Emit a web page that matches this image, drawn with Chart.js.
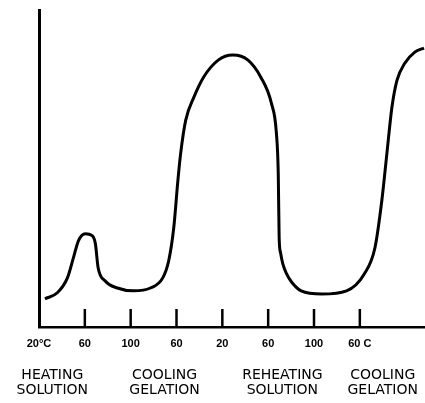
<!DOCTYPE html>
<html>
<head>
<meta charset="utf-8">
<script src="https://cdn.jsdelivr.net/npm/chart.js@4.4.0/dist/chart.umd.min.js"></script>
<style>
  html, body { margin: 0; padding: 0; background: #fff; }
  #wrap { width: 425px; height: 403px; }
</style>
</head>
<body>
<div id="wrap"><canvas id="gelChart"></canvas></div>
<script>
// temperature steps along the run (one step per tick)
const tickPositions = [0, 1, 2, 3, 4, 5, 6, 7];
const tickLabels = ['20°C', '60', '100', '60', '20', '60', '100', '60 C'];

// phase captions under the axis
const phasePositions = [0.29, 2.74, 5.31, 7.5];
const phaseLabels = [
    ['HEATING', 'SOLUTION'],
    ['COOLING', 'GELATION'],
    ['REHEATING', 'SOLUTION'],
    ['COOLING', 'GELATION']
];

// traced curve (x in temperature steps, y in relative units)
const curveX = [0.13, 0.40, 0.62, 0.75, 0.86, 1.01, 1.16, 1.23, 1.29, 1.44, 1.71, 2.06, 2.43, 2.70, 2.83, 2.94,
    3.03, 3.09, 3.20, 3.38, 3.59, 3.91, 4.23, 4.56, 4.84, 5.07, 5.18, 5.22, 5.24, 5.27, 5.32, 5.40, 5.51, 5.72, 6.17, 6.71,
    7.10, 7.33, 7.48, 7.59, 7.70, 7.81, 7.98, 8.20, 8.40];
const curveY = [8.9, 10.8, 15.5, 21.8, 27.2, 29.4, 28.8, 26.3, 18.7, 14.6, 12.3, 11.4, 12.3, 15.5, 20.9, 31.3,
    46.2, 54.7, 65.2, 72.5, 78.8, 84.2, 85.8, 84.2, 78.8, 70.6, 61.1, 48.4, 28.0, 23.4, 19.9, 16.8, 14.2, 11.4, 10.4, 11.4,
    16.8, 25.0, 39.9, 54.7, 69.3, 77.8, 83.2, 86.7, 88.0];

const points = curveX.map((x, i) => ({ x: x, y: curveY[i] }));

// small upright tick marks standing on the x axis
const upTicks = {
    id: 'upTicks',
    afterDatasetsDraw(chart) {
        const ctx = chart.ctx;
        const xs = chart.scales.x;
        const bottom = chart.chartArea.bottom;
        ctx.save();
        ctx.strokeStyle = '#000';
        ctx.lineWidth = 2.5;
        tickPositions.slice(1).forEach(v => {
            const px = xs.getPixelForValue(v);
            ctx.beginPath();
            ctx.moveTo(px, bottom);
            ctx.lineTo(px, bottom - 18);
            ctx.stroke();
        });
        ctx.restore();
    }
};

const ctx = document.getElementById('gelChart').getContext('2d');
new Chart(ctx, {
    type: 'scatter',
    data: {
        datasets: [{
            data: points,
            showLine: true,
            borderColor: '#000',
            borderWidth: 3,
            pointRadius: 0,
            cubicInterpolationMode: 'monotone',
            fill: false
        }]
    },
    options: {
        responsive: true,
        maintainAspectRatio: false,
        animation: false,
        layout: { padding: { left: 39, right: -3, top: 10, bottom: -2 } },
        plugins: {
            legend: { display: false },
            tooltip: { enabled: false }
        },
        scales: {
            x: {
                type: 'linear',
                min: 0,
                max: 8.42,
                grid: { display: false, drawTicks: false },
                border: { display: true, color: '#000', width: 2.5 },
                afterBuildTicks: scale => { scale.ticks = tickPositions.map(v => ({ value: v })); },
                ticks: {
                    autoSkip: false,
                    maxRotation: 0,
                    padding: 10,
                    color: '#000',
                    font: { family: 'Liberation Sans, Arial, sans-serif', size: 11, weight: 'bold' },
                    callback: (v, i) => tickLabels[i]
                }
            },
            x2: {
                type: 'linear',
                position: 'bottom',
                min: 0,
                max: 8.42,
                grid: { display: false, drawTicks: false },
                border: { display: false },
                afterBuildTicks: scale => { scale.ticks = phasePositions.map(v => ({ value: v })); },
                ticks: {
                    autoSkip: false,
                    maxRotation: 0,
                    padding: 7,
                    color: '#000',
                    font: { family: 'DejaVu Sans, sans-serif', size: 14, lineHeight: 1.1 },
                    callback: (v, i) => phaseLabels[i]
                }
            },
            y: {
                min: 0,
                max: 100,
                grid: { display: false, drawTicks: false },
                border: { display: true, color: '#000', width: 3 },
                ticks: { display: false }
            }
        }
    },
    plugins: [upTicks]
});
</script>
</body>
</html>
